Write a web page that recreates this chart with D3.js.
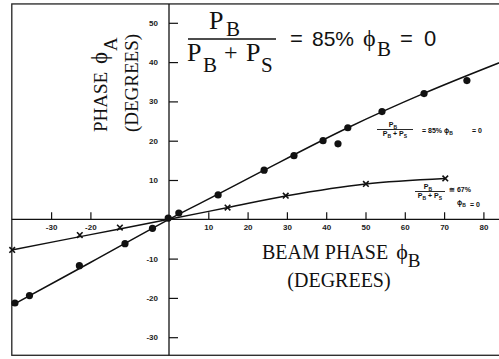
<!DOCTYPE html>
<html>
<head>
<meta charset="utf-8">
<script src="https://cdn.jsdelivr.net/npm/d3@7"></script>
<style>
  body { margin: 0; background: #fff; }
  svg { display: block; }
</style>
</head>
<body>
<svg id="chart" width="499" height="359"></svg>
<script>
// PB/(PB+PS) = 85%, measured points (beam phase -> phase A, degrees)
const dotPhaseB = [-39.2, -35.5, -22.8, -11.2, -4.2, -0.2, 2.5, 12.5, 24.2, 31.8, 39.2, 43.0, 45.5, 54.2, 64.9, 75.8];
const dotPhaseA = [-21.3, -19.4, -11.8, -6.2, -2.3, 0.3, 1.6, 6.2, 12.5, 16.2, 20.0, 19.2, 23.3, 27.4, 32.0, 35.3];
// hand drawn curve through them
const dotFitB = [-40, -20, 0, 12.5, 24.2, 45.5, 65, 86];
const dotFitA = [-21.9, -11.0, 0, 6.4, 12.5, 23.3, 32.1, 40.6];

// PB/(PB+PS) ~ 67%
const crossPhaseB = [-39.9, -22.7, -12.5, 14.9, 29.7, 50.1, 70.3];
const crossPhaseA = [-7.8, -4.0, -2.1, 3.0, 6.0, 9.0, 10.4];
const crossFitB = [-40, -20, 0, 15, 30, 50, 70.3];
const crossFitA = [-7.8, -3.9, 0, 3.0, 6.0, 9.0, 10.4];

const xTicks = [-30, -20, 10, 20, 30, 40, 50, 60, 70, 80];
const yTicks = [-30, -20, -10, 10, 20, 30, 40, 50];

// frame of the figure, in degrees
const frameB = [-40, 90];
const frameA = [-34.6, 54.8];

const svg = d3.select("#chart");
const serif = "Liberation Serif";
const sans = "Liberation Sans";

const x = d3.scaleLinear().domain([-40, 80]).range([11.8, 483.4]);
const y = d3.scaleLinear().domain([-30, 50]).range([337.2, 22.8]);

function fmt(d) { return d < 0 ? "-" + Math.abs(d) : d; }

// frame
svg.append("rect")
    .attr("x", x(frameB[0]))
    .attr("y", y(frameA[1]))
    .attr("width", x(frameB[1]) - x(frameB[0]))
    .attr("height", y(frameA[0]) - y(frameA[1]))
    .attr("fill", "none")
    .attr("stroke", "#222")
    .attr("stroke-width", 1.3);

// axis lines through the origin
svg.append("line")
    .attr("x1", x(frameB[0])).attr("x2", x(frameB[1]))
    .attr("y1", y(0)).attr("y2", y(0))
    .attr("stroke", "#111").attr("stroke-width", 1.3);
svg.append("line")
    .attr("x1", x(0)).attr("x2", x(0))
    .attr("y1", y(frameA[1])).attr("y2", y(frameA[0]))
    .attr("stroke", "#111").attr("stroke-width", 1.3);

const xAxis = d3.axisBottom(x).tickValues(xTicks).tickSizeInner(-7).tickSizeOuter(0).tickPadding(5).tickFormat(fmt);
const yAxis = d3.axisLeft(y).tickValues(yTicks).tickSizeInner(-9).tickSizeOuter(0).tickPadding(11).tickFormat(fmt);

svg.append("g").attr("transform", "translate(0," + y(0) + ")").call(xAxis)
    .call(g => g.select(".domain").remove());
svg.append("g").attr("transform", "translate(" + x(0) + ",0)").call(yAxis)
    .call(g => g.select(".domain").remove());

svg.selectAll(".tick line").attr("stroke", "#111").attr("stroke-width", 1.2);
svg.selectAll(".tick text")
    .attr("fill", "#222")
    .style("font-family", sans)
    .style("font-size", "8px")
    .style("font-weight", "bold");

// curves
const line = d3.line().x(d => x(d[0])).y(d => y(d[1])).curve(d3.curveCatmullRom.alpha(0.5));
svg.append("clipPath").attr("id", "plotclip").append("rect")
    .attr("x", x(frameB[0])).attr("y", y(frameA[1]))
    .attr("width", x(frameB[1]) - x(frameB[0]))
    .attr("height", y(frameA[0]) - y(frameA[1]));

svg.append("path")
    .datum(d3.zip(dotFitB, dotFitA))
    .attr("clip-path", "url(#plotclip)")
    .attr("d", line)
    .attr("fill", "none").attr("stroke", "#111").attr("stroke-width", 1.5);
svg.append("path")
    .datum(d3.zip(crossFitB, crossFitA))
    .attr("d", line)
    .attr("fill", "none").attr("stroke", "#111").attr("stroke-width", 1.4);

// markers
svg.selectAll("circle.dot")
    .data(d3.zip(dotPhaseB, dotPhaseA))
    .enter()
    .append("circle")
    .attr("class", "dot")
    .attr("cx", d => x(d[0]))
    .attr("cy", d => y(d[1]))
    .attr("r", 3.6)
    .attr("fill", "#111");

svg.selectAll("path.cross")
    .data(d3.zip(crossPhaseB, crossPhaseA))
    .enter()
    .append("path")
    .attr("class", "cross")
    .attr("transform", d => "translate(" + x(d[0]) + "," + y(d[1]) + ")")
    .attr("d", "M-2.8,-2.8L2.8,2.8M-2.8,2.8L2.8,-2.8")
    .attr("stroke", "#111")
    .attr("stroke-width", 1.6);

// y axis title
const yt = svg.append("text")
    .attr("transform", "translate(107,132) rotate(-90)")
    .style("font-family", serif).style("font-size", "19px").attr("fill", "#111");
yt.append("tspan").text("PHASE ");
yt.append("tspan").attr("dx", 3).style("font-size", "23px").text("ϕ");
yt.append("tspan").attr("dx", 1).attr("dy", 10).style("font-size", "19px").text("A");

svg.append("text")
    .attr("transform", "translate(138,83) rotate(-90)")
    .attr("text-anchor", "middle")
    .style("font-family", serif).style("font-size", "19px").attr("fill", "#111")
    .text("(DEGREES)");

// x axis title
const xt = svg.append("text")
    .attr("x", 262).attr("y", 259)
    .style("font-family", serif).style("font-size", "20px").attr("fill", "#111");
xt.append("tspan").text("BEAM PHASE ");
xt.append("tspan").attr("dx", 3).style("font-size", "22px").text("ϕ");
xt.append("tspan").attr("dy", 8).style("font-size", "19px").text("B");

svg.append("text")
    .attr("x", 339).attr("y", 287)
    .attr("text-anchor", "middle")
    .style("font-family", serif).style("font-size", "20px").attr("fill", "#111")
    .text("(DEGREES)");

// big formula at the top
const big = svg.append("g").attr("fill", "#111").style("font-family", serif);
big.append("text").attr("x", 209).attr("y", 29).style("font-size", "26px").text("P");
big.append("text").attr("x", 226).attr("y", 36).style("font-size", "21px").text("B");
big.append("line").attr("x1", 188).attr("x2", 276).attr("y1", 39).attr("y2", 39)
    .attr("stroke", "#111").attr("stroke-width", 1.5);
big.append("text").attr("x", 187).attr("y", 61).style("font-size", "26px").text("P");
big.append("text").attr("x", 203).attr("y", 72).style("font-size", "21px").text("B");
big.append("text").attr("x", 224).attr("y", 60).style("font-size", "24px").text("+");
big.append("text").attr("x", 246).attr("y", 61).style("font-size", "26px").text("P");
big.append("text").attr("x", 261).attr("y", 72).style("font-size", "21px").text("S");
big.append("text").attr("x", 290).attr("y", 46).style("font-size", "22px").style("font-family", sans).text("=");
big.append("text").attr("x", 312).attr("y", 46).style("font-size", "21px").style("font-family", sans).text("85%");
big.append("text").attr("x", 363).attr("y", 46).style("font-size", "24px").text("ϕ");
big.append("text").attr("x", 377).attr("y", 56).style("font-size", "21px").text("B");
big.append("text").attr("x", 400).attr("y", 46).style("font-size", "22px").style("font-family", sans).text("=");
big.append("text").attr("x", 424).attr("y", 46).style("font-size", "22px").style("font-family", sans).text("0");

// small in-plot notes
function note(g, cx, top, halfW) {
    g.append("text").attr("x", cx - 2).attr("y", top).attr("text-anchor", "middle").text("P")
        .append("tspan").attr("dy", 1.5).style("font-size", "5px").text("B");
    g.append("line").attr("x1", cx - halfW).attr("x2", cx + halfW)
        .attr("y1", top + 2.5).attr("y2", top + 2.5)
        .attr("stroke", "#111").attr("stroke-width", 0.9);
    const d = g.append("text").attr("x", cx).attr("y", top + 9).attr("text-anchor", "middle");
    d.append("tspan").text("P");
    d.append("tspan").attr("dy", 1.5).style("font-size", "5px").text("B");
    d.append("tspan").attr("dy", -1.5).text("  +  P");
    d.append("tspan").attr("dy", 1.5).style("font-size", "5px").text("S");
}

const n1 = svg.append("g").attr("fill", "#111")
    .style("font-family", sans).style("font-size", "7px").style("font-weight", "bold");
note(n1, 395, 127, 18);
n1.append("text").attr("x", 422).attr("y", 133).text("=  85%   ϕ")
    .append("tspan").attr("dy", 1.5).style("font-size", "5px").text("B");
n1.append("text").attr("x", 472).attr("y", 133).text("=  0");

const n2 = svg.append("g").attr("fill", "#111")
    .style("font-family", sans).style("font-size", "7px").style("font-weight", "bold");
note(n2, 430, 189, 15);
n2.append("text").attr("x", 449).attr("y", 192).text("≅  67%");
n2.append("text").attr("x", 457).attr("y", 205).text("ϕ")
    .append("tspan").attr("dy", 1.5).style("font-size", "5px").text("B");
n2.append("text").attr("x", 470).attr("y", 206.5).text("=  0");
</script>
</body>
</html>
